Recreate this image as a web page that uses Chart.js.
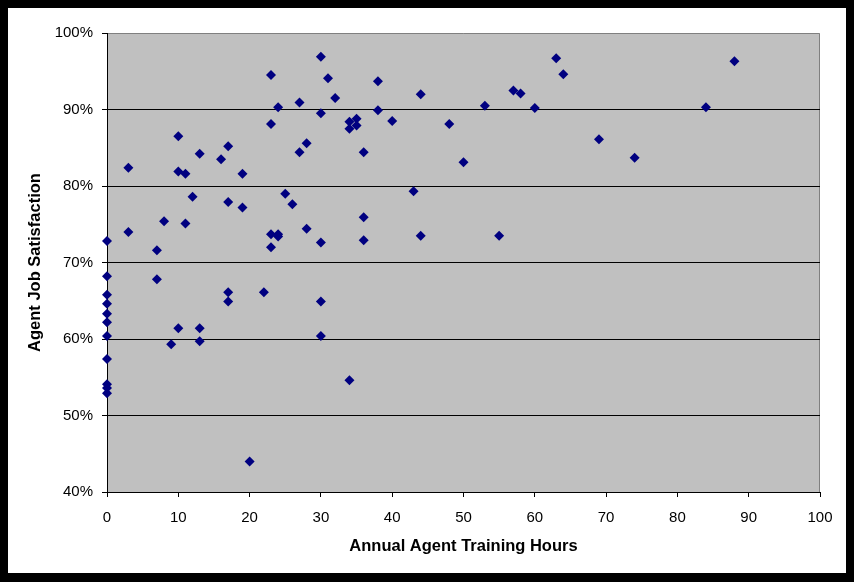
<!DOCTYPE html>
<html>
<head>
<meta charset="utf-8">
<script src="https://cdn.jsdelivr.net/npm/chart.js@4.4.1/dist/chart.umd.min.js"></script>
<style>
  html, body { margin: 0; padding: 0; background: #000; }
  #frame { position: absolute; left: 8px; top: 8px; width: 838px; height: 565px; background: #fff; }
  canvas { display: block; }
</style>
</head>
<body>
<div id="frame"><canvas id="chart" width="838" height="565"></canvas></div>
<script>
// training hours per agent and the matching satisfaction score (%)
const hours = [
  0, 0, 0, 0, 0, 0, 0, 0, 0, 0, 0,
  3, 3, 7, 7, 8, 9, 10, 10, 10, 11, 11, 12, 13, 13, 13, 16,
  17, 17, 17, 17, 19, 19, 20, 22, 23, 23, 23, 23, 24, 24, 24,
  25, 26, 27, 27, 28, 28, 30, 30, 30, 30, 30, 31, 32,
  34, 34, 34, 35, 35, 36, 36, 36, 38, 38, 40, 43, 44, 44,
  48, 50, 53, 55, 57, 58, 60, 63, 64, 69, 74, 84, 88
];
const satisfaction = [
  72.8, 68.2, 65.8, 64.6, 63.3, 62.2, 60.4, 57.4, 54.1, 53.6, 52.9,
  82.4, 74.0, 71.6, 67.8, 75.4, 59.3, 86.5, 81.9, 61.4, 81.6, 75.1, 78.6, 84.2, 61.4, 59.7, 83.5,
  85.2, 77.9, 66.1, 64.9, 81.6, 77.2, 44.0, 66.1, 94.5, 88.1, 73.7, 72.0, 90.3, 73.7, 73.4,
  79.0, 77.6, 90.9, 84.4, 85.6, 74.4, 96.9, 89.5, 72.6, 64.9, 60.4, 94.1, 91.5,
  88.4, 87.5, 54.6, 88.8, 87.9, 84.4, 75.9, 72.9, 93.7, 89.9, 88.5, 79.3, 92.0, 73.5,
  88.1, 83.1, 90.5, 73.5, 92.5, 92.1, 90.2, 96.7, 94.6, 86.1, 83.7, 90.3, 96.3
];
const xTitle = 'Annual Agent Training Hours';
const yTitle = 'Agent Job Satisfaction';

const points = hours.map((h, i) => ({ x: h, y: satisfaction[i] }));

// grey plot area with a thin darker edge on top and right
const plotBackground = {
  id: 'plotBackground',
  beforeDraw(chart) {
    const { ctx, chartArea: a } = chart;
    ctx.save();
    ctx.fillStyle = '#c0c0c0';
    ctx.fillRect(a.left, a.top, a.right - a.left, a.bottom - a.top);
    ctx.strokeStyle = '#808080';
    ctx.lineWidth = 1;
    ctx.beginPath();
    ctx.moveTo(a.left, a.top + 0.5);
    ctx.lineTo(a.right - 0.5, a.top + 0.5);
    ctx.lineTo(a.right - 0.5, a.bottom);
    ctx.stroke();
    ctx.restore();
  }
};

const font = { family: '"Liberation Sans", Arial, sans-serif', size: 15 };
const titleFont = { family: font.family, size: 16.5, weight: 'bold' };

new Chart(document.getElementById('chart'), {
  type: 'scatter',
  data: {
    datasets: [{
      data: points,
      clip: false,
      pointStyle: 'rectRot',
      pointRadius: 5,
      pointHoverRadius: 5,
      backgroundColor: '#000080',
      borderColor: '#000080',
      borderWidth: 0
    }]
  },
  options: {
    responsive: false,
    animation: false,
    devicePixelRatio: 1,
    layout: { padding: { top: 25, right: 26, left: 0, bottom: 0 } },
    plugins: { legend: { display: false }, tooltip: { enabled: false } },
    scales: {
      x: {
        type: 'linear',
        min: 0, max: 100,
        afterFit(scale) { scale.height = 81; },
        ticks: { stepSize: 10, color: '#000', font: font, padding: 12, maxRotation: 0 },
        grid: { drawOnChartArea: false, drawTicks: true, tickLength: 5, tickColor: '#000' },
        border: { display: true, color: '#000', width: 1 },
        title: {
          display: true, text: xTitle, color: '#000', font: titleFont,
          padding: { top: 0, bottom: 17 }
        }
      },
      y: {
        min: 40, max: 100,
        afterFit(scale) { scale.width = 99; },
        ticks: { stepSize: 10, color: '#000', font: font, padding: 9, callback: v => v + '%' },
        grid: {
          color: ctx => (ctx.tick && ctx.tick.value === 100) ? 'rgba(0,0,0,0)' : '#000',
          drawTicks: true, tickLength: 5, tickColor: '#000'
        },
        border: { display: true, color: '#000', width: 1 },
        title: {
          display: true, text: yTitle, color: '#000', font: titleFont,
          padding: { top: 18, bottom: 0 }
        }
      }
    }
  },
  plugins: [plotBackground]
});
</script>
</body>
</html>
